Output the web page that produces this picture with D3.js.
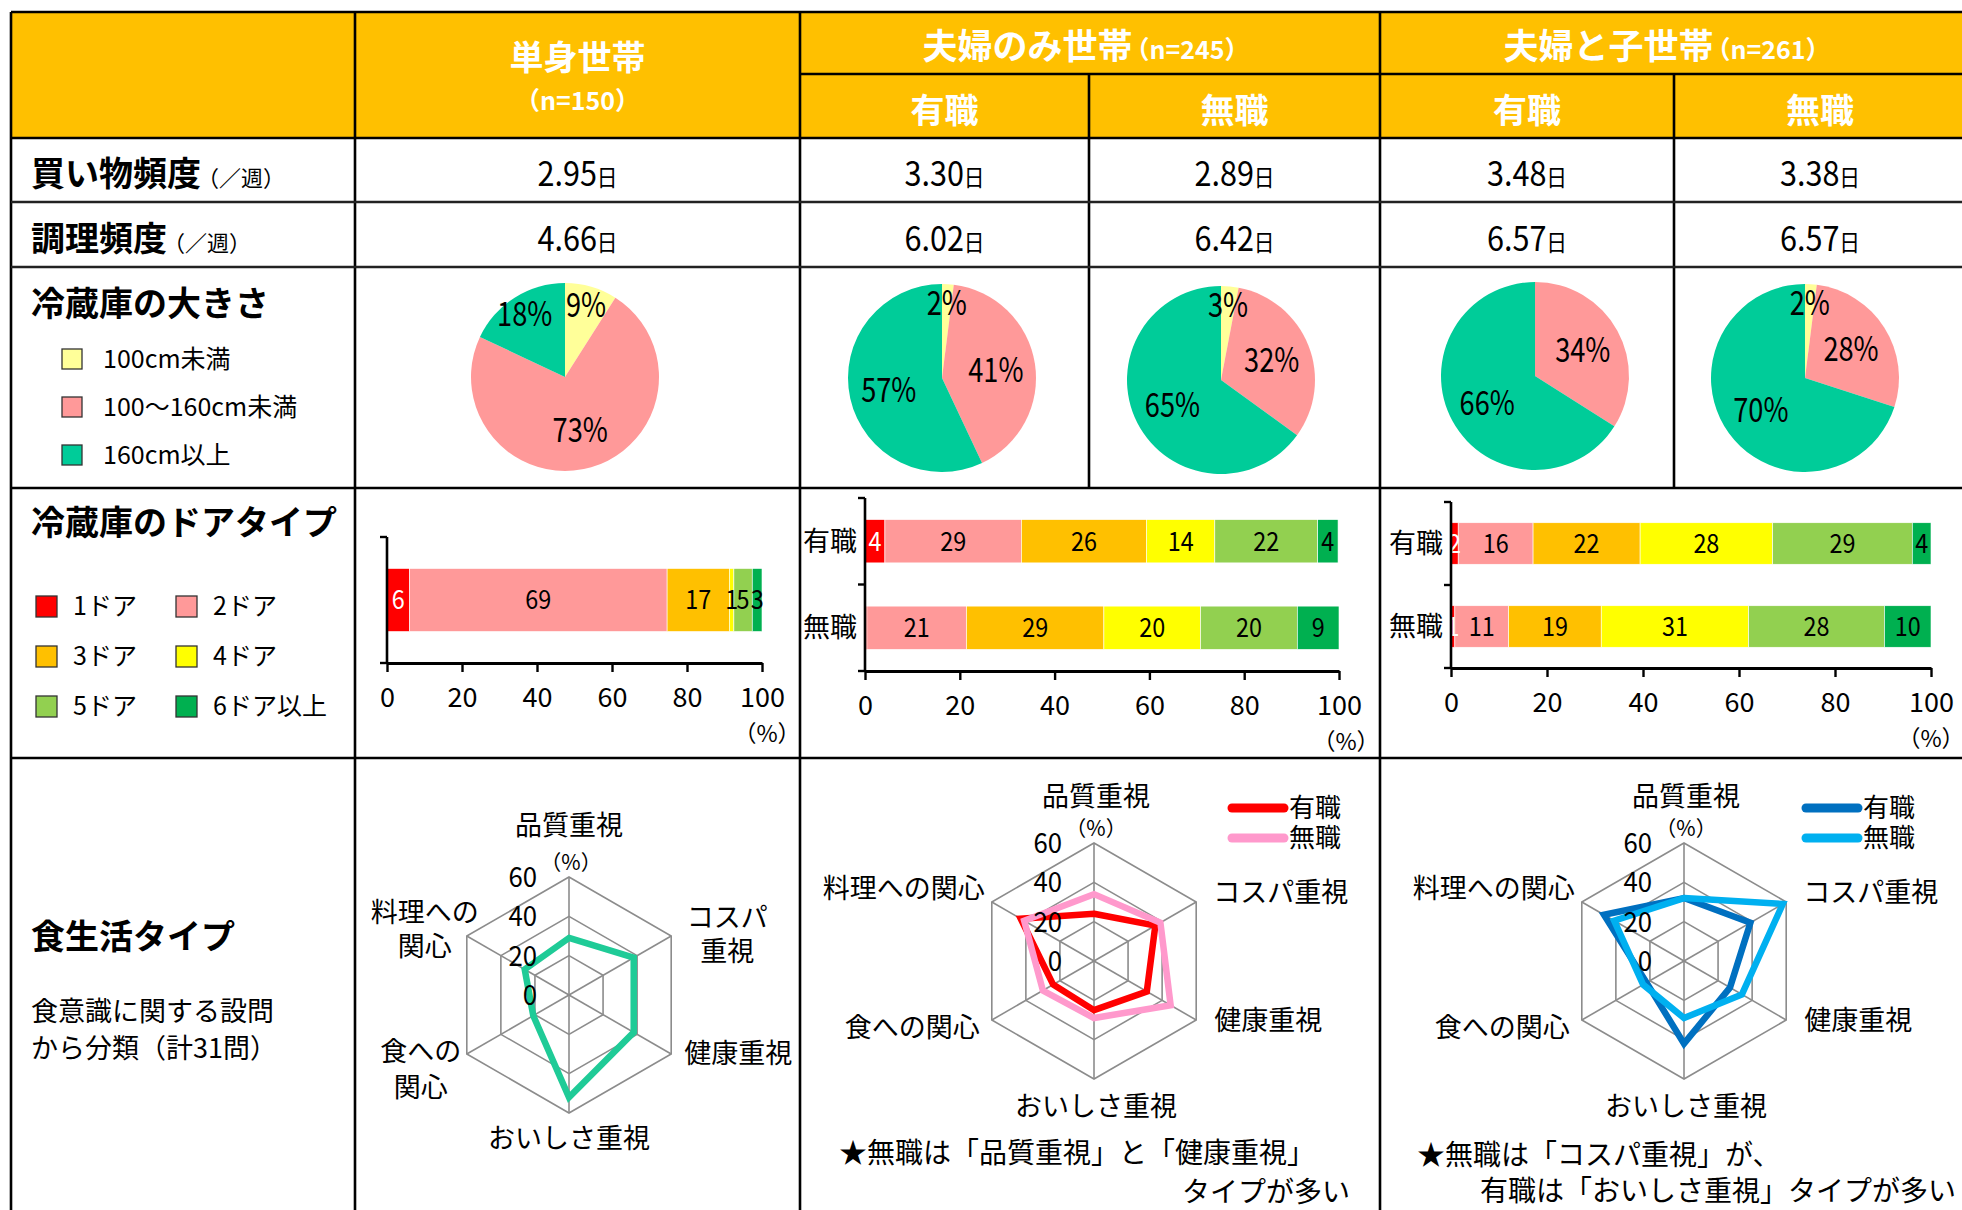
<!DOCTYPE html>
<html><head><meta charset="utf-8">
<script src="https://cdn.jsdelivr.net/npm/d3@7"></script>
<style>
html,body{margin:0;padding:0;background:#fff;}
svg{display:block;}
text{font-family:'Noto Sans CJK JP','Noto Sans',sans-serif;}
</style></head><body>
<svg id="chart" width="1962" height="1210"></svg>
<script>
// ---------------- data ----------------
const groupNames = ["単身世帯", "夫婦のみ世帯", "夫婦と子世帯"];
const groupN = ["（n=150）", "（n=245）", "（n=261）"];
const jobStatus = ["有職", "無職"];
const freqRowLabels = ["買い物頻度", "調理頻度"];
const perWeek = "（／週）";
const dayUnit = "日";
const shoppingDays = [2.95, 3.30, 2.89, 3.48, 3.38];
const cookingDays = [4.66, 6.02, 6.42, 6.57, 6.57];

const sizeTitle = "冷蔵庫の大きさ";
const sizeCategories = ["100cm未満", "100～160cm未満", "160cm以上"];
const sizeSingle = [9, 73, 18];
const sizeCoupleEmployed = [2, 41, 57];
const sizeCoupleUnemployed = [3, 32, 65];
const sizeFamilyEmployed = [0, 34, 66];
const sizeFamilyUnemployed = [2, 28, 70];

const doorTitle = "冷蔵庫のドアタイプ";
const doorCategories = ["1ドア", "2ドア", "3ドア", "4ドア", "5ドア", "6ドア以上"];
const doorSingle = [6.0, 68.7, 16.6, 1.2, 4.9, 2.6];
const doorCoupleEmployed = [4.2, 28.8, 26.4, 14.4, 21.7, 4.3];
const doorCoupleUnemployed = [0.4, 21.0, 29.0, 20.4, 20.4, 8.8];
const doorFamilyEmployed = [1.5, 15.6, 22.3, 27.6, 29.1, 3.9];
const doorFamilyUnemployed = [0.8, 11.2, 19.3, 30.7, 28.3, 9.7];
const barTicks = [0, 20, 40, 60, 80, 100];
const pctUnit = "（%）";

const dietTitle = "食生活タイプ";
const dietNote = ["食意識に関する設問", "から分類（計31問）"];
const dietAxes = ["品質重視", "コスパ重視", "健康重視", "おいしさ重視", "食への関心", "料理への関心"];
const dietAxesWrapped = ["品質重視", "コスパ\n重視", "健康重視", "おいしさ重視", "食への\n関心", "料理への\n関心"];
const dietSingle = [29, 38, 38, 52, 21, 26];
const dietCoupleEmployed = [24, 36, 31, 25, 24, 43];
const dietCoupleUnemployed = [34, 39, 45, 29, 30, 41];
const dietFamilyEmployed = [32, 39, 27, 42, 22, 47];
const dietFamilyUnemployed = [32, 58, 34, 29, 24, 41];
const radarTicks = [0, 20, 40, 60];
const coupleComment = ["★無職は「品質重視」と「健康重視」", "タイプが多い"];
const familyComment = ["★無職は「コスパ重視」が、", "有職は「おいしさ重視」タイプが多い"];

// ---------------- styles ----------------
const HEADER = "#FFC000";
const sizeColors = ["#FFFF99", "#FF9999", "#00CC99"];
const doorColors = ["#FF0000", "#FF9999", "#FFC000", "#FFFF00", "#92D050", "#00B050"];
const dietSingleColor = "#1FCB97";
const coupleColors = ["#FF0000", "#FF99CC"];
const familyColors = ["#0070C0", "#00B0F0"];

const svg = d3.select("#chart");
const X = [11, 355, 800, 1089, 1380, 1674, 1966];
const Y = [12, 74, 138, 202, 267, 488, 758, 1240];

function addText(parent, x, y, parts, o = {}) {
  const g = parent.append("g").attr("transform", `translate(${x},${y})` + (o.sx ? ` scale(${o.sx},1)` : ""));
  const main = o.size || parts[0][1];
  const t = g.append("text").attr("x", 0).attr("y", main * 0.36)
    .attr("text-anchor", o.anchor || "start").attr("fill", o.fill || "#000");
  parts.forEach(p => {
    const ts = t.append("tspan").text(p[0]).attr("font-size", p[1]).attr("font-weight", p[2] || 400);
    if (p[3]) ts.attr("dx", p[3]);
  });
  return g;
}

// ---------------- table ----------------
svg.append("rect").attr("x", X[0]).attr("y", Y[0]).attr("width", X[6] - X[0]).attr("height", Y[2] - Y[0]).attr("fill", HEADER);
const lines = svg.append("g").attr("stroke", "#000").attr("stroke-width", 2.6);
const hl = (y, xa, xb, c) => lines.append("line").attr("x1", xa).attr("x2", xb).attr("y1", y).attr("y2", y).attr("stroke", c || "#000");
const vl = (x, ya, yb) => lines.append("line").attr("x1", x).attr("x2", x).attr("y1", ya).attr("y2", yb);
[X[0], X[1], X[2], X[4]].forEach(x => vl(x, Y[0], Y[7]));
[X[3], X[5]].forEach(x => vl(x, Y[1], Y[5]));
hl(Y[0], X[0], X[6]);
hl(Y[1], X[2], X[6]);
[Y[2], Y[5], Y[6]].forEach(y => hl(y, X[0], X[6]));
[Y[3], Y[4]].forEach(y => hl(y, X[0], X[6], "#222"));

const colC = d3.range(5).map(i => (X[i + 1] + X[i + 2]) / 2);

// header
addText(svg, colC[0], 58, [[groupNames[0], 34, 700]], {anchor: "middle", fill: "#fff"});
addText(svg, colC[0], 101, [[groupN[0], 25, 700]], {anchor: "middle", fill: "#fff"});
addText(svg, (X[2] + X[4]) / 2 - 4, 46, [[groupNames[1], 35, 700], [groupN[1], 25, 700, -8]], {anchor: "middle", fill: "#fff"});
addText(svg, (X[4] + X[6]) / 2 - 6, 46, [[groupNames[2], 35, 700], [groupN[2], 25, 700, -8]], {anchor: "middle", fill: "#fff"});
[1, 2, 3, 4].forEach(i => addText(svg, colC[i], 111, [[jobStatus[(i - 1) % 2], 34, 700]], {anchor: "middle", fill: "#fff"}));

// frequency rows
const freqRows = [shoppingDays, cookingDays];
freqRows.forEach((vals, r) => {
  const cy = (Y[2 + r] + Y[3 + r]) / 2 + 4;
  addText(svg, 31, cy, [[freqRowLabels[r], 34, 700], [perWeek, 22, 400, -4]]);
  vals.forEach((v, i) => addText(svg, colC[i], cy, [[v.toFixed(2), 34], [dayUnit, 23]], {anchor: "middle", sx: 0.9}));
});

// ---------------- fridge size (pies) ----------------
addText(svg, 31, 304, [[sizeTitle, 34, 700]]);
sizeCategories.forEach((c, i) => {
  const cy = 359 + i * 48;
  svg.append("rect").attr("x", 62).attr("y", cy - 10).attr("width", 20).attr("height", 20)
    .attr("fill", sizeColors[i]).attr("stroke", "#333").attr("stroke-width", 1.3);
  addText(svg, 103, cy, [[c, 25]]);
});
const pieData = [sizeSingle, sizeCoupleEmployed, sizeCoupleUnemployed, sizeFamilyEmployed, sizeFamilyUnemployed];
const pieCenters = [[565, 377], [942, 378], [1221, 380], [1535, 376], [1805, 378]];
const PR = 94;
const pie = d3.pie().sort(null).value(d => d);
const arc = d3.arc().innerRadius(0).outerRadius(PR);
pieData.forEach((vals, k) => {
  const g = svg.append("g").attr("transform", `translate(${pieCenters[k][0]},${pieCenters[k][1]})`);
  const arcs = pie(vals);
  g.selectAll("path").data(arcs).join("path").attr("d", arc).attr("fill", (d, i) => sizeColors[i]);
  arcs.forEach(a => {
    if (a.data <= 0) return;
    const lr = a.data < 5 ? PR * 0.8 : (a.data <= 20 ? PR * 0.8 : PR * 0.58);
    const c = d3.arc().innerRadius(lr).outerRadius(lr).centroid(a);
    addText(g, c[0], c[1], [[a.data + "%", 34]], {anchor: "middle", sx: 0.8});
  });
});

// ---------------- door type (stacked bars) ----------------
addText(svg, 31, 523, [[doorTitle, 34, 700]]);
doorCategories.forEach((c, i) => {
  const col = i % 2, row = Math.floor(i / 2);
  const x = col === 0 ? 36 : 176, cy = 606 + row * 50;
  svg.append("rect").attr("x", x).attr("y", cy - 10).attr("width", 21).attr("height", 21)
    .attr("fill", doorColors[i]).attr("stroke", "#333").attr("stroke-width", 1.3);
  addText(svg, x + 37, cy, [[c, 25]]);
});
const doorCharts = [
  {x0: 387, x1: 762, top: 537, bottom: 663, rows: ["単身"], values: [doorSingle], cats: false, px: 5},
  {x0: 865, x1: 1339, top: 498, bottom: 671, rows: jobStatus, values: [doorCoupleEmployed, doorCoupleUnemployed], cats: true, px: 7},
  {x0: 1451, x1: 1931, top: 502, bottom: 668, rows: jobStatus, values: [doorFamilyEmployed, doorFamilyUnemployed], cats: true, px: 0}
];
doorCharts.forEach(ch => {
  const g = svg.append("g");
  const x = d3.scaleLinear().domain([0, 100]).range([ch.x0, ch.x1]);
  const y = d3.scaleBand().domain(ch.rows).range([ch.top, ch.bottom]).paddingInner(0.5).paddingOuter(0.25);
  ch.rows.forEach((r, ri) => {
    const vals = ch.values[ri];
    const cum = [0, ...d3.cumsum(vals)];
    vals.forEach((v, i) => {
      g.append("rect").attr("x", x(cum[i])).attr("y", y(r)).attr("width", x(cum[i + 1]) - x(cum[i]))
        .attr("height", y.bandwidth()).attr("fill", doorColors[i]).attr("stroke", "#fff").attr("stroke-width", 0.6);
    });
    vals.forEach((v, i) => {
      const lab = Math.round(v);
      if (lab < 1) return;
      addText(g, (x(cum[i]) + x(cum[i + 1])) / 2, y(r) + y.bandwidth() / 2, [[String(lab), 26]],
        {anchor: "middle", fill: i === 0 ? "#fff" : "#000", sx: 0.9});
    });
    if (ch.cats) addText(g, ch.x0 - 8, y(r) + y.bandwidth() / 2, [[r, 27]], {anchor: "end"});
  });
  // y axis
  const bounds = [ch.top];
  for (let i = 1; i < ch.rows.length; i++) bounds.push((y(ch.rows[i - 1]) + y.bandwidth() + y(ch.rows[i])) / 2);
  bounds.push(ch.bottom);
  g.append("line").attr("x1", ch.x0).attr("x2", ch.x0).attr("y1", ch.top).attr("y2", ch.bottom).attr("stroke", "#000").attr("stroke-width", 2.6);
  bounds.forEach(b => g.append("line").attr("x1", ch.x0 - 7).attr("x2", ch.x0).attr("y1", b).attr("y2", b).attr("stroke", "#000").attr("stroke-width", 2.4));
  // x axis
  const ax = g.append("g").attr("transform", `translate(0,${ch.bottom})`)
    .call(d3.axisBottom(x).tickValues(barTicks).tickSize(9).tickSizeOuter(0).tickPadding(16));
  ax.attr("font-size", 27).attr("font-family", "'Noto Sans CJK JP','Noto Sans',sans-serif");
  ax.select(".domain").attr("stroke-width", 3);
  ax.selectAll(".tick line").attr("stroke-width", 2.4);
  addText(g, ch.x1 + ch.px, ch.bottom + 71, [[pctUnit, 23]], {anchor: "middle"});
});

// ---------------- diet type (radars) ----------------
addText(svg, 31, 937, [[dietTitle, 34, 700]]);
dietNote.forEach((t, i) => addText(svg, 31, 1011 + i * 37, [[t, 27]]));

const RR = 118;
const rScale = d3.scaleLinear().domain([0, 60]).range([0, RR]);
const ang = i => i * 2 * Math.PI / dietAxes.length;
const singleLineLayout = [
  {a: "middle", dx: 2, dy: [-47]}, {a: "start", dx: 17, dy: [-10]}, {a: "start", dx: 18, dy: [0]},
  {a: "middle", dx: 2, dy: [27]}, {a: "end", dx: -12, dy: [7]}, {a: "end", dx: -7, dy: [-14]}
];
const wrappedLayout = [
  {a: "middle", dx: 0, dy: [-52]}, {a: "middle", dx: 56, dy: [-19, 15]}, {a: "start", dx: 13, dy: [-1]},
  {a: "middle", dx: 0, dy: [25]}, {a: "middle", dx: -46, dy: [-3, 33]}, {a: "middle", dx: -42, dy: [-24, 10]}
];
function radar(cx, cy, series, colors, labels, layout) {
  const g = svg.append("g").attr("transform", `translate(${cx},${cy})`);
  const pt = (i, v) => [rScale(v) * Math.sin(ang(i)), -rScale(v) * Math.cos(ang(i))];
  radarTicks.filter(t => t > 0).forEach(t => {
    g.append("path").attr("d", d3.line()(dietAxes.map((_, i) => pt(i, t))) + "Z")
      .attr("fill", "none").attr("stroke", "#8C8C8C").attr("stroke-width", 1.6);
  });
  dietAxes.forEach((_, i) => {
    const p = pt(i, radarTicks[radarTicks.length - 1]);
    g.append("line").attr("x1", 0).attr("y1", 0).attr("x2", p[0]).attr("y2", p[1]).attr("stroke", "#8C8C8C").attr("stroke-width", 1.6);
  });
  const lr = d3.lineRadial().angle((d, i) => ang(i)).radius(d => rScale(d)).curve(d3.curveLinearClosed);
  series.forEach((s, k) => g.append("path").attr("d", lr(s)).attr("fill", "none").attr("stroke", colors[k]).attr("stroke-width", 6.5));
  radarTicks.forEach(t => addText(g, -32, -rScale(t), [[String(t), 28]], {anchor: "end", sx: 0.92}));
  const top = pt(0, 60);
  addText(g, top[0] + 2, top[1] - 15, [[pctUnit, 21]], {anchor: "middle"});
  labels.forEach((lab, i) => {
    const v = pt(i, 60), L = layout[i];
    lab.split("\n").forEach((line, j) => addText(g, v[0] + L.dx, v[1] + L.dy[j], [[line, 27]], {anchor: L.a}));
  });
}
radar(569, 995, [dietSingle], [dietSingleColor], dietAxesWrapped, wrappedLayout);
radar(1094, 961, [dietCoupleEmployed, dietCoupleUnemployed], coupleColors, dietAxes, singleLineLayout);
radar(1684, 961, [dietFamilyEmployed, dietFamilyUnemployed], familyColors, dietAxes, singleLineLayout);

function radarLegend(x, y, colors) {
  jobStatus.forEach((s, i) => {
    const cy = y + i * 30;
    svg.append("line").attr("x1", x).attr("x2", x + 52).attr("y1", cy).attr("y2", cy)
      .attr("stroke", colors[i]).attr("stroke-width", 9).attr("stroke-linecap", "round");
    addText(svg, x + 57, cy, [[s, 26]]);
  });
}
radarLegend(1232, 808, coupleColors);
radarLegend(1806, 808, familyColors);

addText(svg, 839, 1153, [[coupleComment[0], 28]]);
addText(svg, 1350, 1192, [[coupleComment[1], 28]], {anchor: "end"});
addText(svg, 1417, 1155, [[familyComment[0], 28]]);
addText(svg, 1480, 1191, [[familyComment[1], 28]]);
</script>
</body></html>
